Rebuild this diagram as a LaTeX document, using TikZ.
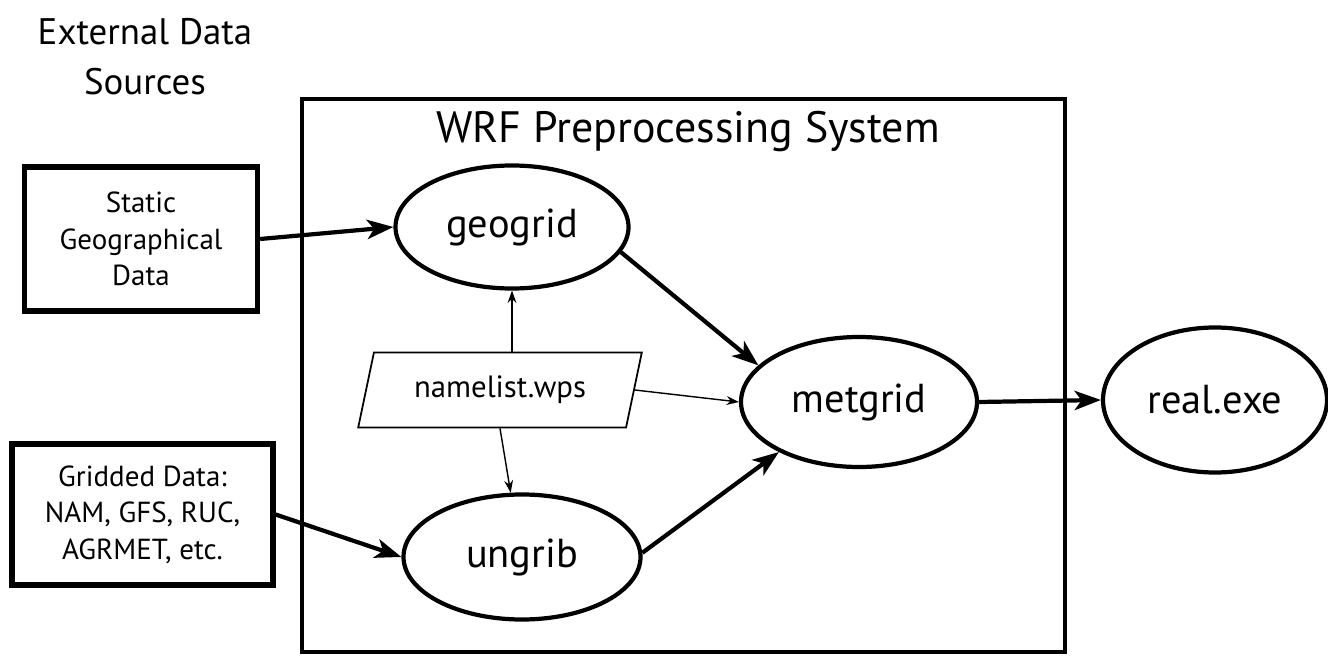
\documentclass[tikz,border=0pt]{standalone}
\usepackage{fontspec}
\setmainfont{PT Sans}
\usepackage{tikz}
\usetikzlibrary{arrows.meta,shapes.geometric,positioning}

\begin{document}
\begin{tikzpicture}[
  databox/.style={draw,line width=3pt,inner sep=0pt,align=center,font=\fontsize{16.5}{20.7}\selectfont},
  prog/.style={draw,ellipse,line width=2.4pt,inner sep=0pt,font=\fontsize{23}{27}\selectfont},
  thick arrow/.style={line width=2.4pt,-{Stealth[length=15pt,width=11pt,inset=4pt]}},
  thin arrow/.style={line width=0.8pt,-{Stealth[length=7pt,width=5pt]}}]
\useasboundingbox (0,0) rectangle (26.56,13.1);
\node (ext) at (2.9,11.96) [align=center,font=\fontsize{21}{28.3}\selectfont] {External Data\\Sources};
\node (wps) at (13.67,5.59) [draw,line width=2.4pt,minimum width=15.26cm,minimum height=11.06cm] {};
\node (wpstitle) at (13.76,10.46) [font=\fontsize{25}{30}\selectfont] {WRF Preprocessing System};
\node (static) at (2.82,8.32) [databox,minimum width=4.66cm,minimum height=2.88cm] {Static\\Geographical\\Data};
\node (gridded) at (2.85,2.81) [databox,minimum width=5.22cm,minimum height=2.82cm] {Gridded Data:\\NAM, GFS, RUC,\\AGRMET, etc.};
\node (geogrid) at (10.24,8.56) [prog,minimum width=4.66cm,minimum height=2.46cm] {geogrid};
\node (ungrib) at (10.44,1.96) [prog,minimum width=4.74cm,minimum height=2.5cm] {ungrib};
\node (metgrid) at (17.18,5.06) [prog,minimum width=4.72cm,minimum height=2.6cm] {metgrid};
\node (real) at (24.3,5.1) [prog,minimum width=4.48cm,minimum height=2.9cm] {real.exe};
\node (namelist) at (10.0,5.3) [draw,line width=1pt,trapezium,trapezium left angle=69,trapezium right angle=111,
  trapezium stretches=true,minimum width=5.68cm,minimum height=1.5cm,inner sep=0pt,font=\fontsize{17.5}{20}\selectfont] {namelist.wps};
\draw [thick arrow] (static.east) -- (geogrid.west);
\draw [thick arrow] (gridded.east) -- (ungrib.west);
\draw [thick arrow] (geogrid.-13) -- (metgrid.160);
\draw [thick arrow] (ungrib.2) -- (metgrid.212);
\draw [thick arrow] (metgrid.east) -- (real.west);
\draw [thin arrow] (geogrid.south |- namelist.north) -- (geogrid.south);
\draw [thin arrow] (namelist.south) -- (ungrib.100);
\draw [thin arrow] (namelist.east) -- (metgrid.west);
\end{tikzpicture}
\end{document}
